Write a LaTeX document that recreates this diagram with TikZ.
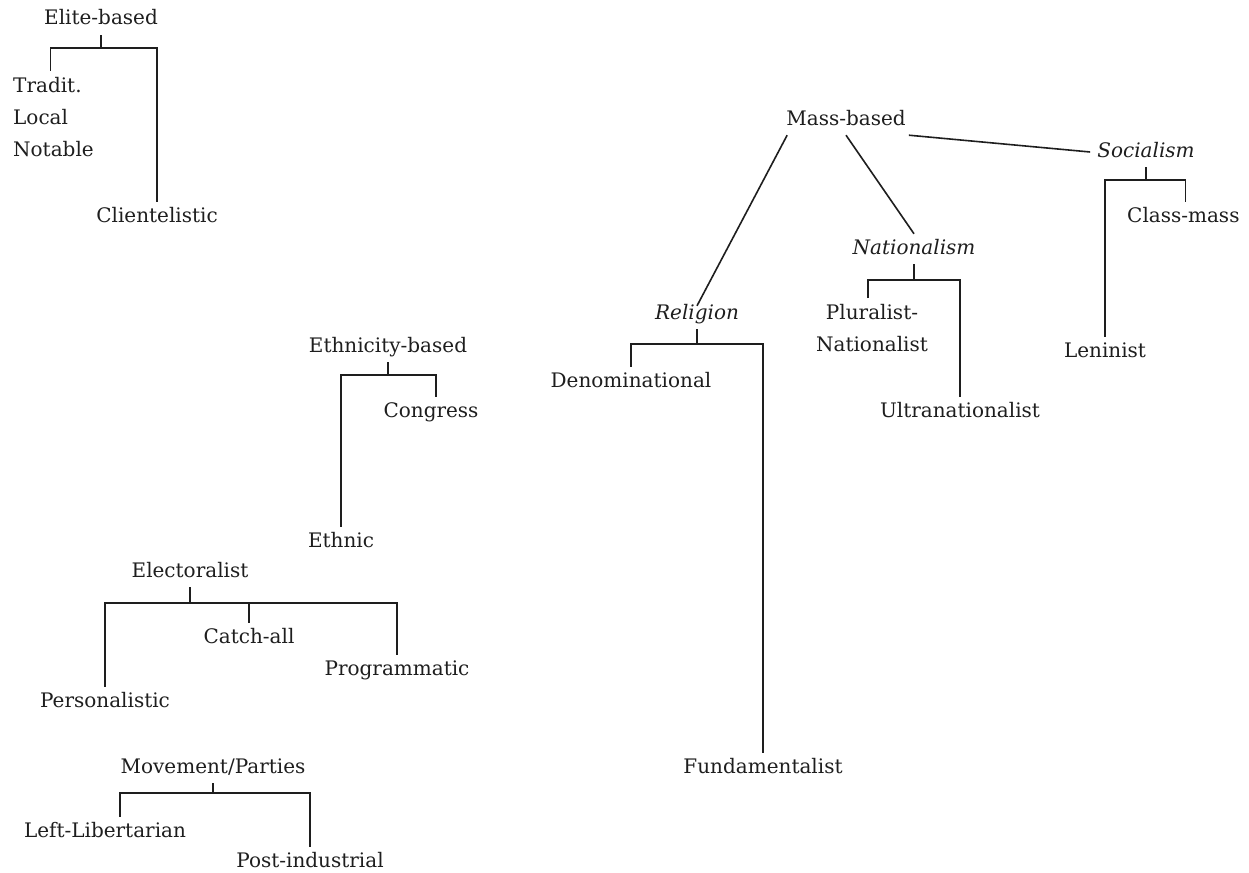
\documentclass[tikz,border=0pt]{standalone}
\usepackage{fontspec}
\setmainfont{DejaVu Serif}
\usetikzlibrary{positioning}
\definecolor{ink}{HTML}{1E1E1E}

\tikzset{
  lbl/.style={inner xsep=3pt,inner ysep=6pt,text=ink,font=\fontsize{20}{32}\selectfont,
    text height=14pt,text depth=4pt},
  lblit/.style={lbl,font=\fontsize{20}{32}\selectfont\itshape},
  stack/.style={inner xsep=3pt,inner ysep=6pt,text=ink,font=\fontsize{20}{32}\selectfont},
  link/.style={draw=ink,line width=1.6pt}
}

\begin{document}
\begin{tikzpicture}[x=1pt,y=-1pt]
\useasboundingbox (0,0) rectangle (1249,872);

% elite-based
\node[lbl] (elite) at (101,20) {Elite-based};
\node[stack,anchor=north west,align=left] (tradit) at (10,71) {Tradit.\\Local\\Notable};
\node[lbl] (client) at (157,217) {Clientelistic};
\draw[link] (elite.south) -- ++(0,13) coordinate (eb);
\draw[link] ([xshift=-3pt]tradit.north) |- (eb) -| (client.north);

% mass-based
\node[lbl] (mass) at (846,120) {Mass-based};
\node[lblit] (religion) at (697,314) {Religion};
\node[lblit] (nation) at (914,249) {Nationalism};
\node[lblit] (social) at (1146,152) {Socialism};
\draw[link] ([xshift=4pt]mass.south west) -- ([yshift=-7pt]religion.north);
\draw[link] (mass.south) -- (nation.north);
\draw[link] (mass.south east) -- ([xshift=-4pt]social.west);

\node[lbl] (denom) at (631,382) {Denominational};
\node[lbl] (fundam) at (763,768) {Fundamentalist};
\draw[link] (religion.south) -- ++(0,15) coordinate (rb);
\draw[link] (denom.north) |- (rb) -| (fundam.north);

\node[stack,anchor=north,align=center] (plural) at (872,298) {Pluralist-\\Nationalist};
\node[lbl] (ultra) at (960,412) {Ultranationalist};
\draw[link] (nation.south) -- ++(0,16) coordinate (nb);
\draw[link] ([xshift=-4pt]plural.north) |- (nb) -| (ultra.north);

\node[lbl,anchor=west] (classm) at (1124,217) {Class-mass};
\node[lbl] (lenin) at (1105,352) {Leninist};
\draw[link] (social.south) -- ++(0,13) coordinate (sb);
\draw[link] (lenin.north) |- (sb) -| ([xshift=2pt]classm.north);

% ethnicity-based
\node[lbl] (ethnicity) at (388,347) {Ethnicity-based};
\node[lbl] (congress) at (431,412) {Congress};
\node[lbl] (ethnic) at (341,542) {Ethnic};
\draw[link] (ethnicity.south) -- ++(0,13) coordinate (thb);
\draw[link] (ethnic.north) |- (thb) -| ([xshift=5pt]congress.north);

% electoralist
\node[lbl] (elect) at (190,572) {Electoralist};
\node[lbl] (person) at (105,702) {Personalistic};
\node[lbl] (catchall) at (249,638) {Catch-all};
\node[lbl] (program) at (397,670) {Programmatic};
\draw[link] (elect.south) -- ++(0,16) coordinate (lb);
\draw[link] (person.north) |- (lb) -| (program.north);
\draw[link] (catchall.north) -- (catchall.north |- lb);

% movement parties
\node[lbl] (movement) at (213,768) {Movement/Parties};
\node[lbl] (leftlib) at (105,832) {Left-Libertarian};
\node[lbl] (postind) at (310,862) {Post-industrial};
\draw[link] (movement.south) -- ++(0,10) coordinate (mb);
\draw[link] ([xshift=15pt]leftlib.north) |- (mb) -| (postind.north);
\end{tikzpicture}
\end{document}
